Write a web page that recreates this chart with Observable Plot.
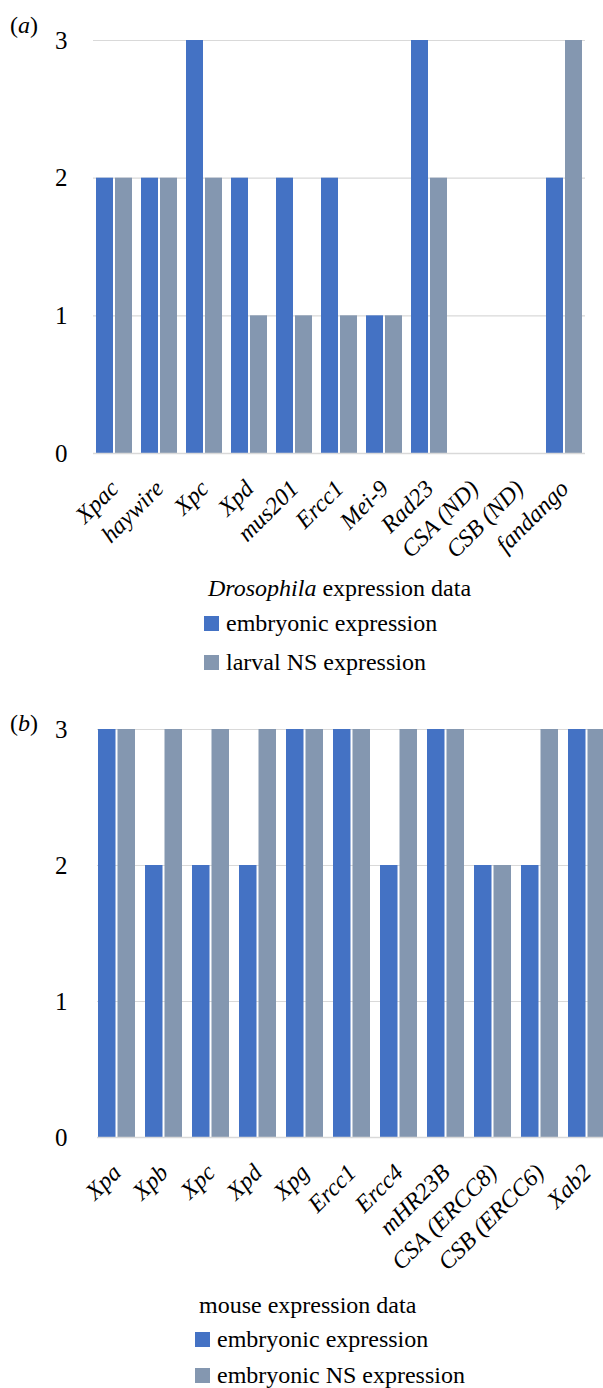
<!DOCTYPE html>
<html>
<head>
<meta charset="utf-8">
<script src="https://cdn.jsdelivr.net/npm/d3@7"></script>
<script src="https://cdn.jsdelivr.net/npm/@observablehq/plot@0.6"></script>
<style>
  html, body { margin: 0; padding: 0; background: #fff; }
  #root { position: relative; width: 603px; height: 1388px; overflow: hidden; background: #fff;
          font-family: "Liberation Serif", "Times New Roman", Tinos, "DejaVu Serif", serif; color: #000; }
  #root svg { position: absolute; left: 0; max-width: none !important; }
  #root svg text { font-family: "Liberation Serif", "Times New Roman", serif; }
  [aria-label="x-axis tick label"] text { font-style: italic; font-size: 24px !important; }
  [aria-label="y-axis tick label"] text { font-size: 25px !important; }
  .abs { position: absolute; white-space: nowrap; line-height: 1; }
  .panel { font-size: 24px; }
  .ltitle { font-size: 24px; }
  .litem { font-size: 24px; display: flex; align-items: center; }
  .sw { display: inline-block; width: 15px; height: 15px; margin-right: 7px; }
</style>
</head>
<body>
<div id="root"></div>
<script>
// ---- data ----
const genesA = ["Xpac", "haywire", "Xpc", "Xpd", "mus201", "Ercc1", "Mei-9", "Rad23", "CSA (ND)", "CSB (ND)", "fandango"];
const embryonicA = [2, 2, 3, 2, 2, 2, 1, 3, 0, 0, 2];
const larvalNSA = [2, 2, 2, 1, 1, 1, 1, 2, 0, 0, 3];

const genesB = ["Xpa", "Xpb", "Xpc", "Xpd", "Xpg", "Ercc1", "Ercc4", "mHR23B", "CSA (ERCC8)", "CSB (ERCC6)", "Xab2"];
const embryonicB = [3, 2, 2, 2, 3, 3, 2, 3, 2, 2, 3];
const embryonicNSB = [3, 3, 3, 3, 3, 3, 3, 3, 2, 3, 3];

const yTicks = [0, 1, 2, 3];
const seriesNamesA = ["embryonic expression", "larval NS expression"];
const seriesNamesB = ["embryonic expression", "embryonic NS expression"];
const colors = ["#4472C4", "#8497B0"];

const root = document.getElementById("root");
const FONT = "Liberation Serif";

function makeChart(genes, s1, s2, cfg) {
  const rows = genes.map((g, i) => ({gene: g, a: s1[i], b: s2[i]}));
  const svg = Plot.plot({
    width: cfg.width,
    height: cfg.height,
    marginLeft: cfg.marginLeft,
    marginRight: cfg.marginRight,
    marginTop: cfg.marginTop,
    marginBottom: cfg.marginBottom,
    style: {fontFamily: FONT, background: "transparent", color: "#000"},
    x: {domain: genes, paddingInner: cfg.padInner, paddingOuter: cfg.padOuter, label: null},
    y: {domain: [0, 3], label: null},
    marks: [
      Plot.gridY(yTicks.filter(d => d > 0), {stroke: "#d9d9d9", strokeOpacity: 1, strokeWidth: 1.2}),
      Plot.barY(rows, {x: "gene", y: "a", fill: colors[0], insetRight: cfg.inset}),
      Plot.barY(rows, {x: "gene", y: "b", fill: colors[1], insetLeft: cfg.inset}),
      Plot.ruleY([0], {stroke: "#d9d9d9", strokeWidth: 1.5}),
      Plot.axisY(yTicks, {tickSize: 0, tickPadding: cfg.yPad, tickFormat: d => String(d), fontSize: 25, fontFamily: FONT, label: null}),
      Plot.axisX({tickSize: 0, tickRotate: -45, tickPadding: cfg.xPad, fontSize: 24, fontFamily: FONT, fontStyle: "italic", label: null})
    ]
  });
  svg.style.top = cfg.top + "px";
  svg.style.maxWidth = "none";
  root.appendChild(svg);
}

makeChart(genesA, embryonicA, larvalNSA, {
  top: 0, width: 603, height: 580, marginLeft: 93, marginRight: 18, marginTop: 40, marginBottom: 580 - 453,
  padInner: 0.2, padOuter: 0.05, inset: 19, yPad: 26, xPad: 31
});
makeChart(genesB, embryonicB, embryonicNSB, {
  top: 690, width: 610, height: 612, marginLeft: 97, marginRight: 4, marginTop: 39, marginBottom: 612 - 447,
  padInner: 0.213, padOuter: 0.02, inset: 19.5, yPad: 30, xPad: 31
});

function addHTML(html, cls, left, top) {
  const d = document.createElement("div");
  d.className = "abs " + cls;
  d.style.left = left + "px";
  d.style.top = top + "px";
  d.innerHTML = html;
  root.appendChild(d);
  return d;
}
function legendItem(name, color, left, top) {
  const d = addHTML("", "litem", left, top);
  const sw = document.createElement("span");
  sw.className = "sw";
  sw.style.background = color;
  d.appendChild(sw);
  const t = document.createElement("span");
  t.textContent = name;
  d.appendChild(t);
}

// panel labels
addHTML("(<i>a</i>)", "panel", 10, 13);
addHTML("(<i>b</i>)", "panel", 10, 711);

// legend (a)
addHTML("<i>Drosophila</i> expression data", "ltitle", 208, 576);
legendItem(seriesNamesA[0], colors[0], 204, 611);
legendItem(seriesNamesA[1], colors[1], 204, 650);

// legend (b)
addHTML("mouse expression data", "ltitle", 199, 1293);
legendItem(seriesNamesB[0], colors[0], 195, 1327);
legendItem(seriesNamesB[1], colors[1], 195, 1363);
</script>
</body>
</html>
